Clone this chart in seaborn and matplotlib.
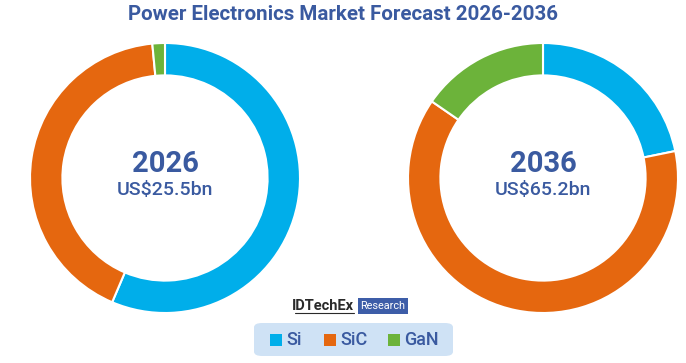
import matplotlib
matplotlib.use("Agg")
import matplotlib.pyplot as plt
import seaborn as sns
from matplotlib.patches import FancyBboxPatch, Rectangle

# data
segments = ["Si", "SiC", "GaN"]
share_2026 = [56.4, 42.1, 1.5]
share_2036 = [21.8, 62.8, 15.4]
years = ["2026", "2036"]
market_size = ["US$25.5bn", "US$65.2bn"]

colors = ["#00aeea", "#e5670f", "#6cb33a"]
navy = "#3a5aa0"

sns.set_theme(style="white")
plt.rcParams["font.family"] = ["Roboto", "DejaVu Sans"]

fig = plt.figure(figsize=(6.86, 3.63), dpi=100)
W, H = 686, 363

def donut(cx, cy, r, values, year, size):
    ax = fig.add_axes([(cx - r) / W, (H - cy - r) / H, 2 * r / W, 2 * r / H])
    ax.pie(values, colors=colors, startangle=90, counterclock=False,
           radius=1.0, wedgeprops=dict(width=0.24, edgecolor="white", linewidth=1.5))
    ax.set_xlim(-1, 1)
    ax.set_ylim(-1, 1)
    ax.set_aspect("equal")
    ax.axis("off")
    ax.text(0, 0.10, year, ha="center", va="center", fontsize=21,
            fontweight="bold", color=navy)
    ax.text(0, -0.09, size, ha="center", va="center", fontsize=14,
            fontweight="medium", color=navy)

donut(165, 178, 135, share_2026, years[0], market_size[0])
donut(543, 178, 135, share_2036, years[1], market_size[1])

fig.text(0.5, 1 - 15 / H, "Power Electronics Market Forecast 2026-2036",
         ha="center", va="center", fontsize=14.8, fontweight="bold",
         color=navy)

# logo
fig.text(354 / W, 1 - 306 / H, "IDTechEx", ha="right", va="center",
         fontsize=10.5, fontweight="bold", color="#2a2a2a")
fig.add_artist(plt.Line2D([295 / W, 354 / W], [1 - 313 / H, 1 - 313 / H],
                          color="#2a2a2a", lw=0.8))
fig.add_artist(Rectangle((358 / W, 1 - 314 / H), 50 / W, 16 / H,
                         facecolor="#3d5da8", edgecolor="none"))
fig.text(383 / W, 1 - 306 / H, "Research", ha="center", va="center",
         fontsize=7.8, color="white")

# legend box
fig.add_artist(FancyBboxPatch((254 / W, 1 - 356 / H), 199 / W, 33 / H,
                              boxstyle="round,pad=0,rounding_size=0.012",
                              facecolor="#cfe2f5", edgecolor="none"))
legend_x = [270, 324, 388]
for x, name, c in zip(legend_x, segments, colors):
    fig.add_artist(Rectangle((x / W, 1 - 346 / H), 12 / W, 12 / H,
                             facecolor=c, edgecolor="none"))
    fig.text((x + 16) / W, 1 - 340 / H, name, ha="left", va="center",
             fontsize=13, fontweight="medium", color=navy)

fig.savefig("out.png", dpi=100)
